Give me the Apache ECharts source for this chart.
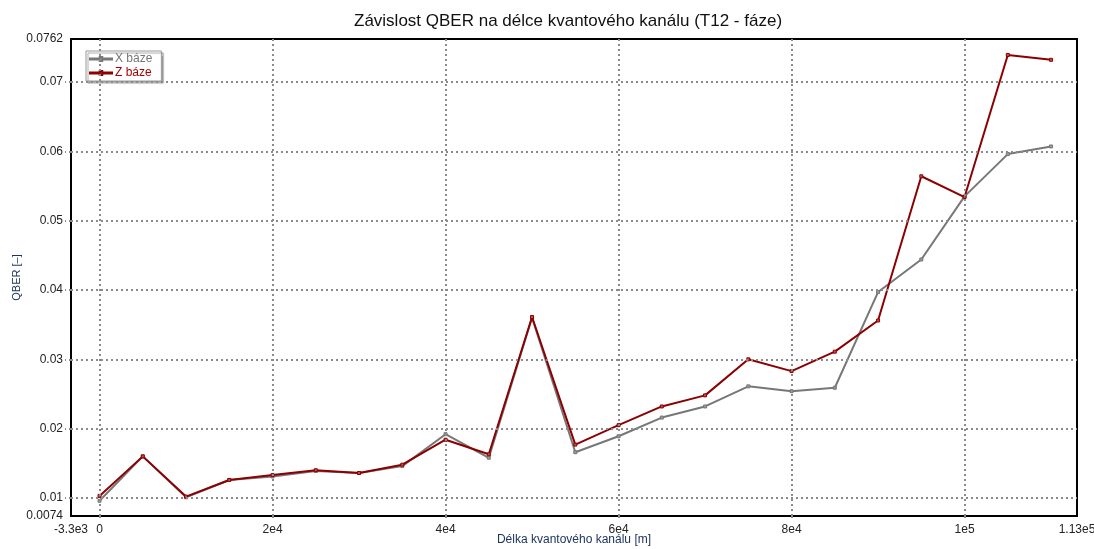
<!DOCTYPE html>
<html>
<head>
<meta charset="utf-8">
<title>Závislost QBER na délce kvantového kanálu</title>
<script src="https://cdn.jsdelivr.net/npm/echarts@6/dist/echarts.min.js"></script>
<style>
  html, body { margin: 0; padding: 0; background: #fff; }
  #chart { width: 1094px; height: 549px; }
</style>
</head>
<body>
<div id="chart"></div>
<script>
// Channel length [m]
const lengths = [0, 5000, 10000, 15000, 20000, 25000, 30000, 35000, 40000, 45000,
  50000, 55000, 60000, 65000, 70000, 75000, 80000, 85000, 90000, 95000,
  100000, 105000, 110000];

// QBER measured in the X basis
const qberX = [0.0096, 0.0160, 0.0101, 0.0126, 0.0131, 0.0139, 0.0136, 0.0146, 0.0192, 0.0158,
  0.0360, 0.0166, 0.0189, 0.0216, 0.0232, 0.0261, 0.0254, 0.0259, 0.0397, 0.0444,
  0.0535, 0.0596, 0.0607];

// QBER measured in the Z basis
const qberZ = [0.0103, 0.0160, 0.0102, 0.0126, 0.0133, 0.0140, 0.0136, 0.0148, 0.0184, 0.0163,
  0.0361, 0.0177, 0.0205, 0.0232, 0.0248, 0.0300, 0.0283, 0.0311, 0.0356, 0.0564,
  0.0534, 0.0739, 0.0732];

// Axis ranges and tick positions
const xRange = [-3300, 113000];
const yRange = [0.0074, 0.0762];
const xTicks = [0, 20000, 40000, 60000, 80000, 100000];
const yTicks = [0.01, 0.02, 0.03, 0.04, 0.05, 0.06, 0.07];

const FONT = 'Liberation Sans, Arial, sans-serif';

// Engineering-style number formatting: 2e4, 1.13e5, -3.3e3
function sciLabel(v) {
  if (v === 0) return '0';
  const e = Math.floor(Math.log10(Math.abs(v)) + 1e-9);
  const m = parseFloat((v / Math.pow(10, e)).toPrecision(3));
  return m + 'e' + e;
}
function yLabel(v) {
  return String(parseFloat(v.toPrecision(3)));
}

const xLabels = [xRange[0]].concat(xTicks, [xRange[1]]);
const yLabels = [yRange[0]].concat(yTicks, [yRange[1]]);

const gridLine = { color: '#8a8a8a', width: 2, type: [2, 3] };

// legend glyph: thin line with a small square in the middle
const legendIcon = 'path://M0,3.4h10v-1.4h2.6v1.4h10v1.2h-10v1.4h-2.6v-1.4h-10z';

const chart = echarts.init(document.getElementById('chart'), null, { renderer: 'canvas' });
chart.setOption({
  backgroundColor: '#ffffff',
  animation: false,
  title: {
    text: 'Závislost QBER na délce kvantového kanálu (T12 - fáze)',
    left: 349,
    top: 8,
    textStyle: { fontFamily: FONT, fontSize: 17, fontWeight: 'normal', color: '#111' }
  },
  legend: {
    orient: 'vertical',
    left: 86,
    top: 51,
    padding: [2, 9, 2, 3],
    itemGap: 2,
    itemWidth: 22,
    itemHeight: 8,
    icon: legendIcon,
    backgroundColor: '#fff',
    borderColor: '#999',
    borderWidth: 1,
    shadowColor: 'rgba(0,0,0,0.35)',
    shadowOffsetX: 2,
    shadowOffsetY: 2,
    shadowBlur: 1,
    textStyle: { fontFamily: FONT, fontSize: 12, padding: [0, 0, 0, -2] },
    data: [
      { name: 'X báze', textStyle: { color: '#777777' } },
      { name: 'Z báze', textStyle: { color: '#aa0000' } }
    ]
  },
  grid: {
    left: 71, right: 17, top: 39, bottom: 33,
    outerBoundsMode: 'none',
    containLabel: false,
    show: true,
    borderColor: '#000',
    borderWidth: 2
  },
  xAxis: {
    type: 'value',
    min: xRange[0],
    max: xRange[1],
    name: 'Délka kvantového kanálu [m]',
    nameLocation: 'middle',
    nameGap: 18,
    nameMoveOverlap: false,
    nameTextStyle: { fontFamily: FONT, fontSize: 12, color: '#1f3560', verticalAlign: 'top' },
    axisLine: { show: true, onZero: false, lineStyle: { color: '#000', width: 2 } },
    axisTick: { show: true, customValues: xTicks, length: 4, lineStyle: gridLine },
    axisLabel: {
      customValues: xLabels,
      formatter: sciLabel,
      margin: 8,
      fontFamily: FONT, fontSize: 12, color: '#222',
      showMinLabel: true, showMaxLabel: true, hideOverlap: false
    },
    splitLine: { show: false }
  },
  yAxis: {
    type: 'value',
    min: yRange[0],
    max: yRange[1],
    name: 'QBER [–]',
    nameLocation: 'middle',
    nameGap: 49,
    nameMoveOverlap: false,
    nameTextStyle: { fontFamily: FONT, fontSize: 11, color: '#1f3560' },
    axisLine: { show: true, onZero: false, lineStyle: { color: '#000', width: 2 } },
    axisTick: { show: true, customValues: yTicks, length: 6, lineStyle: gridLine },
    axisLabel: {
      customValues: yLabels,
      formatter: yLabel,
      margin: 8,
      fontFamily: FONT, fontSize: 12, color: '#222',
      showMinLabel: true, showMaxLabel: true, hideOverlap: false
    },
    splitLine: { show: false }
  },
  series: [
    {
      // dotted grid drawn at the tick positions
      name: 'grid',
      type: 'line',
      data: [],
      silent: true,
      z: 1,
      markLine: {
        silent: true,
        symbol: 'none',
        label: { show: false },
        lineStyle: gridLine,
        data: xTicks.map(v => ({ xAxis: v })).concat(yTicks.map(v => ({ yAxis: v })))
      }
    },
    {
      name: 'X báze',
      type: 'line',
      z: 3,
      data: lengths.map((x, i) => [x, qberX[i]]),
      symbol: 'rect',
      symbolSize: 3,
      showSymbol: true,
      color: '#777777',
      lineStyle: { color: '#777777', width: 2 },
      itemStyle: { color: '#9a9a9a', borderColor: '#777777', borderWidth: 1 }
    },
    {
      name: 'Z báze',
      type: 'line',
      z: 4,
      data: lengths.map((x, i) => [x, qberZ[i]]),
      symbol: 'rect',
      symbolSize: 3,
      showSymbol: true,
      color: '#8b0000',
      lineStyle: { color: '#8b0000', width: 2 },
      itemStyle: { color: '#c05050', borderColor: '#8b0000', borderWidth: 1 }
    }
  ]
});
</script>
</body>
</html>
